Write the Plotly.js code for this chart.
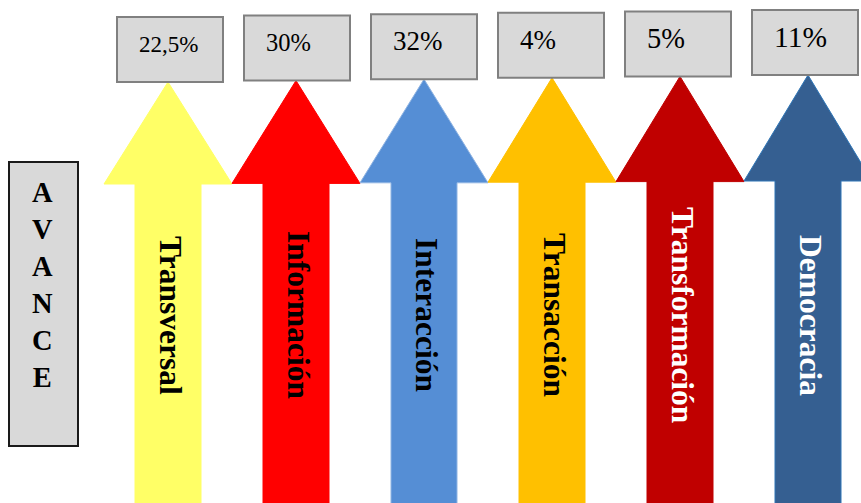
<!DOCTYPE html>
<html>
<head>
<meta charset="utf-8">
<script src="https://cdn.plot.ly/plotly-3.0.1.min.js"></script>
<style>html,body{margin:0;padding:0;background:#fff;}#chart{width:861px;height:503px;}</style>
</head>
<body>
<div id="chart"></div>
<script>
// ---- data ----
const categories = ['Transversal', 'Información', 'Interacción', 'Transacción', 'Transformación', 'Democracia'];
const values = [22.5, 30, 32, 4, 5, 11];
const sideLabel = 'AVANCE';

// ---- style ----
const arrowColors = ['#FFFF66', '#FF0000', '#558ED5', '#FFC000', '#C00000', '#355F91'];
const arrowLines = ['#FFFF66', '#FF0000', '#8FB4E3', '#FFC000', '#C00000', '#2E75B6'];
const labelColors = ['#000000', '#000000', '#000000', '#000000', '#FFFFFF', '#FFFFFF'];
const valueFontSizes = [23, 24.5, 27, 27, 28.5, 29.5];

const valueLabels = values.map(v => String(v).replace('.', ',') + '%');

const shapes = [];
const annotations = [];
const serif = 'Liberation Serif, Times New Roman, serif';

categories.forEach((cat, i) => {
  const cx = 168 + 128 * i;
  const tipY = 82 - 1.4 * i;
  const baseY = 184 - 0.6 * i;
  const headHW = 64, shaftHW = 33, bottom = 530;
  const path = 'M ' + (cx - shaftHW) + ' ' + bottom +
    ' L ' + (cx - shaftHW) + ' ' + baseY +
    ' L ' + (cx - headHW) + ' ' + baseY +
    ' L ' + cx + ' ' + tipY +
    ' L ' + (cx + headHW) + ' ' + baseY +
    ' L ' + (cx + shaftHW) + ' ' + baseY +
    ' L ' + (cx + shaftHW) + ' ' + bottom + ' Z';
  shapes.push({type: 'path', xref: 'x', yref: 'y', path: path,
    fillcolor: arrowColors[i], line: {color: arrowLines[i], width: 1}, layer: 'below'});

  // value box
  const bcx = 170 + 127 * i;
  const top = 17 - 1.4 * i;
  shapes.push({type: 'rect', xref: 'x', yref: 'y', x0: bcx - 53, x1: bcx + 53, y0: top, y1: top + 65,
    fillcolor: '#D9D9D9', line: {color: '#808080', width: 2}, layer: 'above'});
  annotations.push({xref: 'x', yref: 'y', x: bcx - 53 + 20, y: top + 27, xanchor: 'left', yanchor: 'middle',
    text: valueLabels[i], showarrow: false,
    font: {family: serif, size: valueFontSizes[i], color: '#000'}});

  // vertical label
  annotations.push({xref: 'x', yref: 'y', x: cx + 3, y: 315, xanchor: 'center', yanchor: 'middle',
    text: '<b>' + cat + '</b>', textangle: 90, showarrow: false,
    font: {family: serif, size: 31.5, color: labelColors[i]}});
});

// side box
shapes.push({type: 'rect', xref: 'x', yref: 'y', x0: 9, x1: 78, y0: 162, y1: 446,
  fillcolor: '#D9D9D9', line: {color: '#1a1a1a', width: 2}});
annotations.push({xref: 'x', yref: 'y', x: 42, y: 285, xanchor: 'center', yanchor: 'middle',
  text: '<b>' + sideLabel.split('').join('<br>') + '</b>', showarrow: false,
  font: {family: serif, size: 28.5, color: '#000'}});

const layout = {
  width: 861, height: 503,
  margin: {l: 0, r: 0, t: 0, b: 0},
  paper_bgcolor: '#fff', plot_bgcolor: '#fff',
  xaxis: {range: [0, 861], visible: false, fixedrange: true},
  yaxis: {range: [503, 0], visible: false, fixedrange: true},
  shapes: shapes,
  annotations: annotations,
  showlegend: false
};

Plotly.newPlot('chart', [{type: 'scatter', x: [], y: [], hoverinfo: 'skip'}], layout, {displayModeBar: false, staticPlot: true});
</script>
</body>
</html>
